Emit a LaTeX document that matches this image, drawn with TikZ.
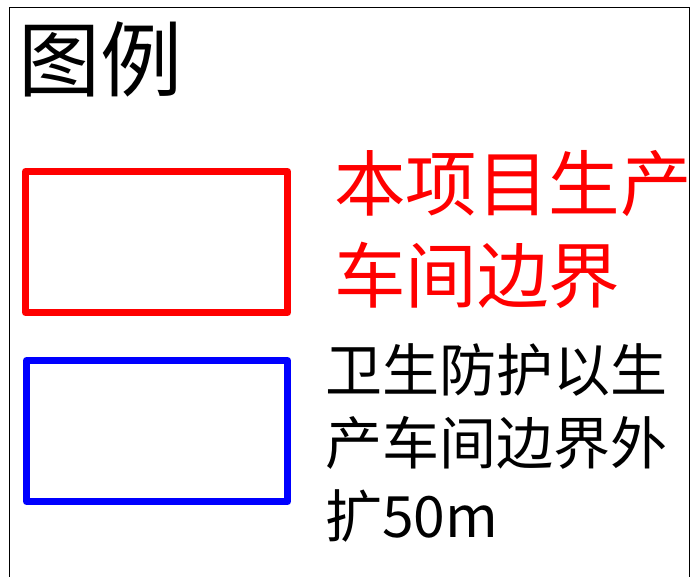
\documentclass[tikz,border=0pt]{standalone}
\usepackage{fontspec}
\newfontfamily\cjk{Noto Sans CJK SC}
\definecolor{legred}{RGB}{255,0,0}
\definecolor{legblue}{RGB}{0,0,255}
\tikzset{
  frameline/.style={draw=black, line width=1pt},
  legbox/.style={line width=7pt, line join=round},
  legtxt/.style={anchor=base west, inner sep=0pt, outer sep=0pt},
}
\begin{document}
\begin{tikzpicture}[x=1pt,y=-1pt]
\useasboundingbox (0,0) rectangle (693,576);
\fill[white] (0,0) rectangle (693,576);
% frame
\draw[frameline] (9,580) -- (9,7) -- (689,7) -- (689,580);
% title
\node[legtxt, font={\cjk\fontsize{82}{82}\selectfont}] (title) at (18,90) {图例};
% boxes
\draw[legbox, draw=legred] (25.5,171.5) rectangle (287.5,312.5);
\draw[legbox, draw=legblue] (26.5,360.5) rectangle (287.5,501.5);
% red text
\node[legtxt, text=legred, font={\cjk\fontsize{71.5}{71.5}\selectfont}] (r1) at (334,210) {本项目生产};
\node[legtxt, text=legred, font={\cjk\fontsize{71.5}{71.5}\selectfont}] (r2) at (334,302) {车间边界};
% black text
\node[legtxt, font={\cjk\fontsize{57}{57}\selectfont}] (b1) at (325,391) {卫生防护以生};
\node[legtxt, font={\cjk\fontsize{57}{57}\selectfont}] (b2) at (325,464) {产车间边界外};
\node[legtxt, font={\cjk\fontsize{57}{57}\selectfont}] (b3) at (325,537) {扩50m};
\end{tikzpicture}
\end{document}
